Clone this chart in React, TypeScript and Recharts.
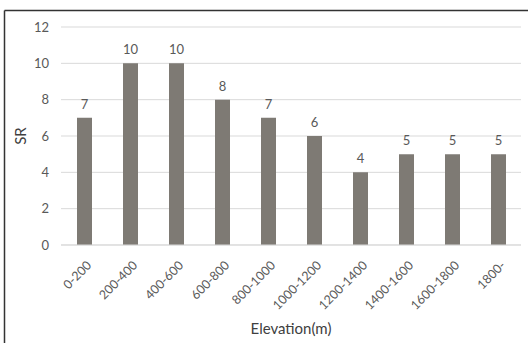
import React from 'react'
import { Bar, BarChart, CartesianGrid, Label, LabelList, XAxis, YAxis } from 'recharts'

const categories = [
  '0-200',
  '200-400',
  '400-600',
  '600-800',
  '800-1000',
  '1000-1200',
  '1200-1400',
  '1400-1600',
  '1600-1800',
  '1800-',
]
const srValues = [7, 10, 10, 8, 7, 6, 4, 5, 5, 5]
const yTicks = [0, 2, 4, 6, 8, 10, 12]

const data = categories.map((name, i) => ({ name, sr: srValues[i] }))

const FONT = 'Lato, "Open Sans", sans-serif'
const TEXT = '#595959'

function SlantTick(props: any) {
  const { x, y, payload } = props
  const tx = x + 5
  const ty = y + 10
  return (
    <text
      x={tx}
      y={ty}
      transform={`rotate(-45, ${tx}, ${ty})`}
      textAnchor="end"
      dominantBaseline="central"
      fontSize={12.5}
      fontFamily={FONT}
      fill={TEXT}
    >
      {payload.value}
    </text>
  )
}

function SrLabel(props: any) {
  const vb = props.viewBox
  const x = vb.x + 20
  const y = vb.y + vb.height / 2
  return (
    <text
      x={x}
      y={y}
      transform={`rotate(-90, ${x}, ${y})`}
      textAnchor="middle"
      dominantBaseline="central"
      fontSize={15}
      fontFamily={FONT}
      fill="#404040"
    >
      SR
    </text>
  )
}

export default function App() {
  return (
    <div
      style={{
        position: 'absolute',
        left: 0,
        top: 0,
        width: 528,
        height: 343,
        background: '#fff',
        overflow: 'hidden',
      }}
    >
      <svg width={528} height={343} style={{ position: 'absolute', left: 0, top: 0 }}>
        <line x1={4.5} y1={10.5} x2={528} y2={10.5} stroke="#333" strokeWidth={1.5} />
        <line x1={4.5} y1={10.5} x2={4.5} y2={343} stroke="#333" strokeWidth={1.5} />
      </svg>
      <div style={{ position: 'absolute', left: 0, top: 0 }}>
        <BarChart
          width={528}
          height={343}
          data={data}
          margin={{ top: 27, right: 7, bottom: 0, left: 0 }}
          barCategoryGap="0%"
        >
          <CartesianGrid vertical={false} stroke="#d9d9d9" />
          <XAxis
            dataKey="name"
            height={98}
            interval={0}
            tickLine={false}
            axisLine={{ stroke: '#d9d9d9' }}
            tick={<SlantTick />}
          >
            <Label
              value="Elevation(m)"
              position="insideBottom"
              offset={9}
              fontSize={15}
              fontFamily={FONT}
              fill="#404040"
            />
          </XAxis>
          <YAxis
            width={61}
            domain={[0, 12]}
            ticks={yTicks}
            axisLine={false}
            tickLine={false}
            tickMargin={6}
            tick={{ fontSize: 13, fontFamily: FONT, fill: TEXT }}
          >
            <Label content={<SrLabel />} />
          </YAxis>
          <Bar dataKey="sr" fill="#7e7a74" barSize={15} isAnimationActive={false}>
            <LabelList
              dataKey="sr"
              position="top"
              offset={9}
              fontSize={13}
              fontFamily={FONT}
              fill={TEXT}
            />
          </Bar>
        </BarChart>
      </div>
    </div>
  )
}
